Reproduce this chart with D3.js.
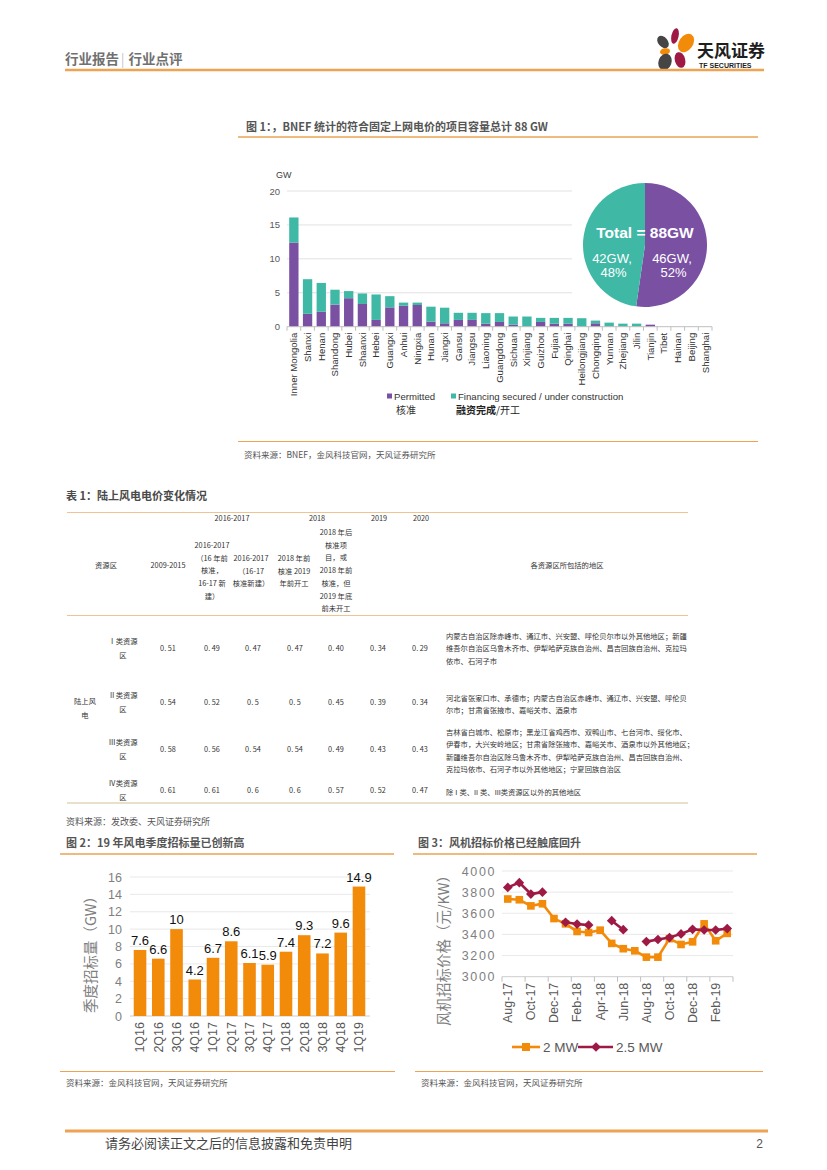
<!DOCTYPE html>
<html><head><meta charset="utf-8">
<script src="https://cdn.jsdelivr.net/npm/d3@7"></script>
<style>
html,body{margin:0;padding:0;background:#fff;}
svg{display:block;}
text{font-family:"Liberation Sans",Arial,"Noto Sans CJK SC",sans-serif;}
.cjk{font-family:"Noto Sans CJK SC","Liberation Sans",sans-serif;}
</style></head><body>
<svg id="page" width="827" height="1170"></svg>
<script>
// ---------------- DATA ----------------
// Figure 1
const provinces = ["Inner Mongolia","Shanxi","Henan","Shandong","Hubei","Shaanxi","Hebei","Guangxi","Anhui","Ningxia","Hunan","Jiangxi","Gansu","Jiangsu","Liaoning","Guangdong","Sichuan","Xinjiang","Guizhou","Fujian","Qinghai","Heilongjiang","Chongqing","Yunnan","Zhejiang","Jilin","Tianjin","Tibet","Hainan","Beijing","Shanghai"];
const permitted = [12.4,1.9,2.2,3.25,4.2,3.35,1.0,2.85,3.1,3.2,0.75,0.5,1.0,1.0,0.45,0.7,0.3,0.05,0.7,0.45,0.45,0,0.5,0,0,0,0.3,0,0,0,0];
const financing = [3.7,5.1,4.25,2.2,1.05,1.55,3.75,1.65,0.45,0.35,2.2,2.3,1.05,1.05,1.55,1.3,1.2,1.45,0.6,0.85,0.85,1.25,0.4,0.6,0.45,0.45,0,0,0,0,0];
const gwTicks = [0,5,10,15,20];
const pieValues = [46,42];            // permitted, financing
const pieLabels = [["46GW,","52%"],["42GW,","48%"]];
const pieTotal = "Total = 88GW";

// Table 1
const tableZones = ["Ⅰ类资源区","Ⅱ类资源区","Ⅲ类资源区","Ⅳ类资源区"];
const tableTariffs = [
  ["0.51","0.49","0.47","0.47","0.40","0.34","0.29"],
  ["0.54","0.52","0.5","0.5","0.45","0.39","0.34"],
  ["0.58","0.56","0.54","0.54","0.49","0.43","0.43"],
  ["0.61","0.61","0.6","0.6","0.57","0.52","0.47"]
];
const tableAreas = [
  ["内蒙古自治区除赤峰市、通辽市、兴安盟、呼伦贝尔市以外其他地区；新疆","维吾尔自治区乌鲁木齐市、伊犁哈萨克族自治州、昌吉回族自治州、克拉玛","依市、石河子市"],
  ["河北省张家口市、承德市；内蒙古自治区赤峰市、通辽市、兴安盟、呼伦贝","尔市；甘肃省张掖市、嘉峪关市、酒泉市"],
  ["吉林省白城市、松原市；黑龙江省鸡西市、双鸭山市、七台河市、绥化市、","伊春市，大兴安岭地区；甘肃省除张掖市、嘉峪关市、酒泉市以外其他地区；","新疆维吾尔自治区除乌鲁木齐市、伊犁哈萨克族自治州、昌吉回族自治州、","克拉玛依市、石河子市以外其他地区；宁夏回族自治区"],
  ["除 I 类、II 类、III类资源区以外的其他地区"]
];

// Figure 2
const quarters = ["1Q16","2Q16","3Q16","4Q16","1Q17","2Q17","3Q17","4Q17","1Q18","2Q18","3Q18","4Q18","1Q19"];
const tenderGW = [7.6,6.6,10,4.2,6.7,8.6,6.1,5.9,7.4,9.3,7.2,9.6,14.9];
const tenderTicks = [0,2,4,6,8,10,12,14,16];

// Figure 3
const months = ["Aug-17","Sep-17","Oct-17","Nov-17","Dec-17","Jan-18","Feb-18","Mar-18","Apr-18","May-18","Jun-18","Jul-18","Aug-18","Sep-18","Oct-18","Nov-18","Dec-18","Jan-19","Feb-19","Mar-19"];
const price2MW  = [3735,3728,3670,3690,3550,3500,3428,3418,3440,3315,3265,3245,3185,3185,3360,3305,3330,3500,3340,3410];
const price25MW = [3845,3890,3782,3800,null,3515,3498,3488,null,3530,3445,null,3332,3352,3370,3405,3448,3442,3442,3455];
const priceTicks = [3000,3200,3400,3600,3800,4000];

// ---------------- STYLE ----------------
const RULE = "#eda352";
const PURPLE = "#7a50a3", TEAL = "#3fb8a6";
const ORANGE = "#f28a0a", CRIMSON = "#9e1a45";

const svg = d3.select("#page");
svg.append("rect").attr("width",827).attr("height",1170).attr("fill","#fff");

// ---------------- HEADER ----------------
const logo = svg.append("g");
[
  {cx:675,cy:36,rx:3.6,ry:8,r:12,c:CRIMSON},
  {cx:686,cy:43,rx:7,ry:10,r:35,c:ORANGE},
  {cx:663,cy:42,rx:4.8,ry:7,r:-40,c:"#454545"},
  {cx:665,cy:51.5,rx:5,ry:3.3,r:-10,c:ORANGE},
  {cx:665,cy:62,rx:6.5,ry:8.5,r:20,c:"#454545"},
  {cx:680,cy:60,rx:5.2,ry:8,r:-15,c:CRIMSON}
].forEach(p=>logo.append("ellipse").attr("cx",0).attr("cy",0).attr("rx",p.rx).attr("ry",p.ry)
  .attr("transform",`translate(${p.cx},${p.cy}) rotate(${p.r})`).attr("fill",p.c));
svg.append("text").attr("class","cjk").attr("x",697).attr("y",57).attr("font-size",17).attr("font-weight",700).attr("fill","#1e1e1e").text("天风证券");
svg.append("text").attr("x",699).attr("y",67.5).attr("font-size",7).attr("font-weight",700).attr("fill","#1e1e1e").text("TF SECURITIES");
const ht = svg.append("text").attr("class","cjk").attr("x",65).attr("y",63.5).attr("font-size",13.5).attr("font-weight",700).attr("fill","#707070");
ht.append("tspan").text("行业报告");
ht.append("tspan").attr("font-weight",300).attr("fill","#aaa").attr("dx",2).text("|");
ht.append("tspan").attr("dx",4).text("行业点评");
svg.append("line").attr("x1",65).attr("x2",764).attr("y1",70).attr("y2",70).attr("stroke",RULE).attr("stroke-width",2.5);

// ---------------- FIGURE 1 ----------------
svg.append("text").attr("class","cjk").attr("x",246).attr("y",131).attr("font-size",11).attr("font-weight",700).attr("fill","#555").text("图 1：，BNEF 统计的符合固定上网电价的项目容量总计 88 GW");
svg.append("line").attr("x1",238).attr("x2",758).attr("y1",137).attr("y2",137).attr("stroke",RULE).attr("stroke-width",1.5);

const f1x = d3.scaleBand().domain(provinces).range([287,712]).paddingInner(0.32).paddingOuter(0.16);
const f1y = d3.scaleLinear().domain([0,20]).range([326.7,191]);
const g1 = svg.append("g");
g1.selectAll(".grid").data(gwTicks.filter(t=>t>0)).join("line")
  .attr("x1",287).attr("x2",572).attr("y1",d=>f1y(d)).attr("y2",d=>f1y(d)).attr("stroke","#d9d9d9").attr("stroke-width",0.8);
const yAx1 = g1.append("g").attr("transform","translate(287,0)")
  .call(d3.axisLeft(f1y).tickValues(gwTicks).tickSize(0).tickPadding(7));
yAx1.select(".domain").remove();
yAx1.selectAll("text").attr("font-size",9.5).attr("fill","#595959").attr("font-family","Liberation Sans, Arial, sans-serif");
g1.append("text").attr("x",276).attr("y",178).attr("font-size",9).attr("fill","#404040").text("GW");

const rows1 = provinces.map((p,i)=>({p, permitted:permitted[i], financing:financing[i]}));
const stack1 = d3.stack().keys(["permitted","financing"])(rows1);
const cols1 = {permitted:PURPLE, financing:TEAL};
g1.selectAll(".ser").data(stack1).join("g").attr("fill",s=>cols1[s.key])
  .selectAll("rect").data(s=>s).join("rect")
  .attr("x",d=>f1x(d.data.p)).attr("width",f1x.bandwidth())
  .attr("y",d=>f1y(d[1])).attr("height",d=>Math.max(0,f1y(d[0])-f1y(d[1])));
g1.append("line").attr("x1",287).attr("x2",712).attr("y1",f1y(0)).attr("y2",f1y(0)).attr("stroke","#bfbfbf");
const step1 = f1x.step();
g1.selectAll(".tk").data(d3.range(provinces.length+1)).join("line")
  .attr("x1",i=>287+i*step1).attr("x2",i=>287+i*step1).attr("y1",f1y(0)).attr("y2",f1y(0)+4).attr("stroke","#bfbfbf");
g1.selectAll(".xl").data(provinces).join("text")
  .attr("transform",d=>`translate(${f1x(d)+f1x.bandwidth()/2},${f1y(0)+6}) rotate(-90)`)
  .attr("dy","0.35em").attr("text-anchor","end").attr("font-size",9.6).attr("fill","#333").text(d=>d);

// legend
g1.append("rect").attr("x",387).attr("y",393.5).attr("width",5).attr("height",5).attr("fill",PURPLE);
g1.append("text").attr("x",394).attr("y",399.5).attr("font-size",9.6).attr("fill","#333").text("Permitted");
g1.append("rect").attr("x",451).attr("y",393.5).attr("width",5).attr("height",5).attr("fill",TEAL);
g1.append("text").attr("x",458).attr("y",399.5).attr("font-size",9.6).attr("fill","#333").text("Financing secured / under construction");
g1.append("text").attr("class","cjk").attr("x",396).attr("y",414).attr("font-size",10).attr("fill","#333").text("核准");
const lt = g1.append("text").attr("class","cjk").attr("x",456).attr("y",414).attr("font-size",10).attr("fill","#222");
lt.append("tspan").attr("font-weight",700).text("融资完成");
lt.append("tspan").text("/开工");

// pie
const pie = d3.pie().sort(null).value(d=>d)(pieValues);
const arc = d3.arc().innerRadius(0).outerRadius(62);
const pg = svg.append("g").attr("transform","translate(645,245)");
pg.selectAll("path").data(pie).join("path").attr("d",arc).attr("fill",(d,i)=>i===0?PURPLE:TEAL);
pg.append("text").attr("y",-7).attr("text-anchor","middle").attr("font-size",15.5).attr("font-weight",700).attr("fill","#fff").text(pieTotal);
const pieLabX = [27,-33];
pieLabels.forEach((lab,i)=>{
  lab.forEach((s,j)=>pg.append("text").attr("x",pieLabX[i]+(j?1.5:0)).attr("y",18+j*13.5).attr("text-anchor","middle")
    .attr("font-size",13).attr("fill","#fff").text(s));
});

svg.append("line").attr("x1",238).attr("x2",758).attr("y1",441.5).attr("y2",441.5).attr("stroke",RULE).attr("stroke-width",1.2);
svg.append("text").attr("class","cjk").attr("x",244).attr("y",458).attr("font-size",8.5).attr("fill","#555").text("资料来源：BNEF，金风科技官网，天风证券研究所");

// ---------------- TABLE 1 ----------------
svg.append("text").attr("class","cjk").attr("x",66).attr("y",500).attr("font-size",11).attr("font-weight",700).attr("fill","#4a4a4a").text("表 1：陆上风电电价变化情况");
const tg = svg.append("g").attr("class","cjk").attr("font-size",7.3).attr("fill","#333");
tg.append("line").attr("x1",67).attr("x2",688).attr("y1",512.5).attr("y2",512.5).attr("stroke","#f1c391").attr("stroke-width",1);
tg.append("line").attr("x1",67).attr("x2",688).attr("y1",615.5).attr("y2",615.5).attr("stroke","#f1c391").attr("stroke-width",1);
tg.append("line").attr("x1",67).attr("x2",688).attr("y1",803).attr("y2",803).attr("stroke","#eadfcb").attr("stroke-width",2);
const colX = [168,212,253,295,336,378,420];
const hdr = (x,y,t,anchor)=>tg.append("text").attr("class","cjk").attr("x",x).attr("y",y).attr("text-anchor",anchor||"middle").text(t);
hdr(232,521,"2016-2017");
hdr(317,521,"2018");
hdr(379,521,"2019");
hdr(421,521,"2020");
hdr(106,568,"资源区");
hdr(168,568,"2009-2015");
["2016-2017","（16 年前","核准，","16-17 新","建）"].forEach((t,i)=>hdr(212,548+i*12.7,t));
["2016-2017","（16-17","核准新建）"].forEach((t,i)=>hdr(251,561+i*12.7,t));
["2018 年前","核准 2019","年前开工"].forEach((t,i)=>hdr(294,561+i*12.7,t));
["2018 年后","核准项","目，或","2018 年前","核准，但","2019 年底","前未开工"].forEach((t,i)=>hdr(336,535+i*12.7,t));
hdr(567,568,"各资源区所包括的地区");

const rowValY = [651,705,752,793];
const rowAreaY = [639,701,735,795];
hdr(85,704,"陆上风");
hdr(85,718,"电");
tableZones.forEach((z,r)=>{
  hdr(123,rowValY[r]-7,z.slice(0,-1));
  hdr(123,rowValY[r]+7,z.slice(-1));
  tableTariffs[r].forEach((v,c)=>hdr(colX[c],rowValY[r],v.replace(".",". ")));
  tableAreas[r].forEach((t,k)=>tg.append("text").attr("x",446).attr("y",rowAreaY[r]+k*12.4).text(t));
});
svg.append("text").attr("class","cjk").attr("x",66).attr("y",825).attr("font-size",9).attr("fill","#555").text("资料来源：发改委、天风证券研究所");

// ---------------- FIGURE 2 ----------------
svg.append("text").attr("class","cjk").attr("x",66).attr("y",847).attr("font-size",11).attr("font-weight",700).attr("fill","#555").text("图 2：19 年风电季度招标量已创新高");
svg.append("line").attr("x1",60).attr("x2",394).attr("y1",854).attr("y2",854).attr("stroke",RULE).attr("stroke-width",1.5);
const f2x = d3.scaleBand().domain(quarters).range([131,368]).paddingInner(0.31).paddingOuter(0.15);
const f2y = d3.scaleLinear().domain([0,16]).range([1016,877]);
const g2 = svg.append("g");
g2.selectAll(".grid").data(tenderTicks).join("line")
  .attr("x1",130).attr("x2",370).attr("y1",d=>f2y(d)).attr("y2",d=>f2y(d)).attr("stroke",d=>d===0?"#bfbfbf":"#e3e3e3").attr("stroke-width",0.8);
const yAx2 = g2.append("g").attr("transform","translate(130,0)").call(d3.axisLeft(f2y).tickValues(tenderTicks).tickSize(0).tickPadding(8));
yAx2.select(".domain").remove();
yAx2.selectAll("text").attr("font-size",12.5).attr("fill","#7f7f7f").attr("font-family","Liberation Sans, Arial, sans-serif");
g2.selectAll("rect").data(quarters).join("rect")
  .attr("x",d=>f2x(d)).attr("width",f2x.bandwidth())
  .attr("y",(d,i)=>f2y(tenderGW[i])).attr("height",(d,i)=>f2y(0)-f2y(tenderGW[i])).attr("fill",ORANGE);
g2.selectAll(".vl").data(quarters).join("text")
  .attr("x",d=>f2x(d)+f2x.bandwidth()/2).attr("y",(d,i)=>f2y(tenderGW[i])-5)
  .attr("text-anchor","middle").attr("font-size",13).attr("fill","#111").text((d,i)=>tenderGW[i]);
g2.selectAll(".xl").data(quarters).join("text")
  .attr("transform",d=>`translate(${f2x(d)+f2x.bandwidth()/2},${f2y(0)+6}) rotate(-90)`)
  .attr("dy","0.35em").attr("text-anchor","end").attr("font-size",12.5).attr("fill","#595959").text(d=>d);
g2.append("text").attr("class","cjk").attr("transform","translate(96,951) rotate(-90)")
  .attr("text-anchor","middle").attr("font-size",14.5).attr("fill","#7f7f7f").text("季度招标量（GW）");
svg.append("line").attr("x1",60).attr("x2",395).attr("y1",1071.5).attr("y2",1071.5).attr("stroke",RULE).attr("stroke-width",1.2);
svg.append("text").attr("class","cjk").attr("x",66).attr("y",1086).attr("font-size",8.5).attr("fill","#555").text("资料来源：金风科技官网，天风证券研究所");

// ---------------- FIGURE 3 ----------------
svg.append("text").attr("class","cjk").attr("x",418).attr("y",847).attr("font-size",11).attr("font-weight",700).attr("fill","#555").text("图 3：风机招标价格已经触底回升");
svg.append("line").attr("x1",413).attr("x2",757).attr("y1",854).attr("y2",854).attr("stroke",RULE).attr("stroke-width",1.5);
const f3x = d3.scaleBand().domain(months).range([502,733]);
const f3y = d3.scaleLinear().domain([3000,4000]).range([976.7,871]);
const g3 = svg.append("g");
g3.selectAll(".grid").data(priceTicks).join("line")
  .attr("x1",502).attr("x2",733).attr("y1",d=>f3y(d)).attr("y2",d=>f3y(d)).attr("stroke",d=>d===3000?"#bfbfbf":"#e3e3e3").attr("stroke-width",0.8);
const yAx3 = g3.append("g").attr("transform","translate(502,0)")
  .call(d3.axisLeft(f3y).tickValues(priceTicks).tickFormat(d3.format("d")).tickSize(0).tickPadding(6));
yAx3.select(".domain").remove();
yAx3.selectAll("text").attr("font-size",12.5).attr("letter-spacing",1.6).attr("fill","#7f7f7f").attr("font-family","Liberation Sans, Arial, sans-serif");
const step3 = f3x.step();
g3.selectAll(".tk").data(d3.range(0,months.length+1,2)).join("line")
  .attr("x1",i=>502+i*step3).attr("x2",i=>502+i*step3).attr("y1",f3y(3000)).attr("y2",f3y(3000)+5).attr("stroke","#bfbfbf");
g3.selectAll(".xl").data(months.filter((m,i)=>i%2===0)).join("text")
  .attr("transform",d=>`translate(${f3x(d)+f3x.bandwidth()/2},${f3y(3000)+6}) rotate(-90)`)
  .attr("dy","0.35em").attr("text-anchor","end").attr("font-size",12.5).attr("fill","#595959").text(d=>d);
g3.append("text").attr("class","cjk").attr("transform","translate(449,947) rotate(-90)")
  .attr("text-anchor","middle").attr("font-size",14.5).attr("fill","#7f7f7f").text("风机招标价格（元/KW）");

const cx3 = m=>f3x(m)+f3x.bandwidth()/2;
const line3 = vals=>d3.line().defined(d=>d[1]!=null).x(d=>cx3(d[0])).y(d=>f3y(d[1]))(months.map((m,i)=>[m,vals[i]]));
g3.append("path").attr("d",line3(price2MW)).attr("fill","none").attr("stroke",ORANGE).attr("stroke-width",2.6);
g3.selectAll(".sq").data(months).join("rect")
  .attr("x",d=>cx3(d)-3.8).attr("y",(d,i)=>f3y(price2MW[i])-3.8).attr("width",7.6).attr("height",7.6).attr("fill",ORANGE);
g3.append("path").attr("d",line3(price25MW)).attr("fill","none").attr("stroke",CRIMSON).attr("stroke-width",2.6);
const diamond = d3.symbol().type(d3.symbolDiamond2).size(60);
g3.selectAll(".dm").data(months.filter((m,i)=>price25MW[i]!=null)).join("path")
  .attr("d",diamond).attr("transform",d=>`translate(${cx3(d)},${f3y(price25MW[months.indexOf(d)])})`).attr("fill",CRIMSON);

// legend
const lg = svg.append("g");
lg.append("line").attr("x1",512).attr("x2",540).attr("y1",1047).attr("y2",1047).attr("stroke",ORANGE).attr("stroke-width",2.6);
lg.append("rect").attr("x",522).attr("y",1043).attr("width",8).attr("height",8).attr("fill",ORANGE);
lg.append("text").attr("x",543).attr("y",1052).attr("font-size",13.5).attr("fill","#595959").text("2 MW");
lg.append("line").attr("x1",578).attr("x2",613).attr("y1",1047).attr("y2",1047).attr("stroke",CRIMSON).attr("stroke-width",2.6);
lg.append("path").attr("d",diamond).attr("transform","translate(596,1047)").attr("fill",CRIMSON);
lg.append("text").attr("x",616).attr("y",1052).attr("font-size",13.5).attr("fill","#595959").text("2.5 MW");

svg.append("line").attr("x1",415).attr("x2",763).attr("y1",1071.5).attr("y2",1071.5).attr("stroke",RULE).attr("stroke-width",1.2);
svg.append("text").attr("class","cjk").attr("x",421).attr("y",1086).attr("font-size",8.5).attr("fill","#555").text("资料来源：金风科技官网，天风证券研究所");

// ---------------- FOOTER ----------------
svg.append("line").attr("x1",65).attr("x2",768).attr("y1",1131).attr("y2",1131).attr("stroke",RULE).attr("stroke-width",2.8);
svg.append("text").attr("class","cjk").attr("x",105).attr("y",1148).attr("font-size",13).attr("fill","#444").text("请务必阅读正文之后的信息披露和免责申明");
svg.append("text").attr("x",763).attr("y",1148).attr("text-anchor","end").attr("font-size",12).attr("fill","#555").text("2");
</script>
</body></html>
